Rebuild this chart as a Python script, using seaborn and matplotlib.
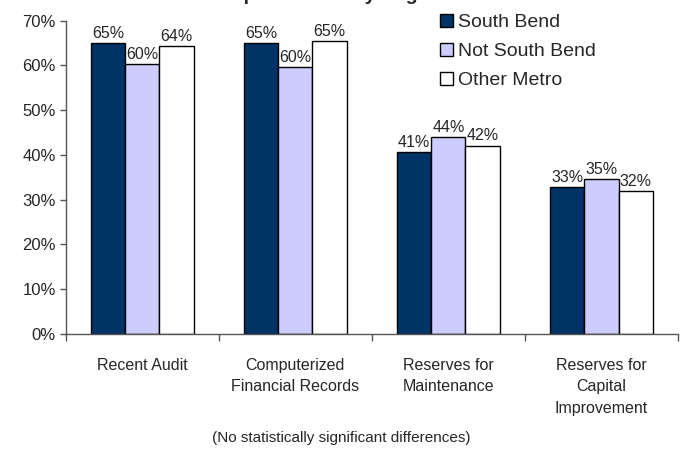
import seaborn as sns
import matplotlib.pyplot as plt
from matplotlib.ticker import FixedLocator
import pandas as pd

# data (percent)
items = ['Recent Audit', 'Computerized\nFinancial Records',
         'Reserves for\nMaintenance', 'Reserves for\nCapital\nImprovement']
regions = ['South Bend', 'Not South Bend', 'Other Metro']
south_bend = [65.0, 65.0, 40.6, 32.8]
not_south_bend = [60.4, 59.7, 44.1, 34.6]
other_metro = [64.4, 65.4, 42.1, 32.0]
y_ticks = [0, 10, 20, 30, 40, 50, 60, 70]

colors = ['#003366', '#CCCCFF', '#FFFFFF']

rows = []
for reg, vals in zip(regions, [south_bend, not_south_bend, other_metro]):
    for it, v in zip(items, vals):
        rows.append({'item': it, 'region': reg, 'pct': v})
df = pd.DataFrame(rows)

sns.set_style('white')
plt.rcParams['font.family'] = ['Liberation Sans', 'DejaVu Sans']

fig = plt.figure(figsize=(6.83, 4.51), dpi=100)
ax = fig.add_axes([65.7 / 683, 117 / 451, 612.3 / 683, 313.3 / 451])

sns.barplot(data=df, x='item', y='pct', hue='region', order=items,
            hue_order=regions, palette=colors, edgecolor='black',
            linewidth=1, width=0.67, gap=0, saturation=1, errorbar=None, ax=ax)

# value labels
for cont in ax.containers:
    ax.bar_label(cont, labels=[f'{v:.0f}%' for v in cont.datavalues],
                 padding=1.5, fontsize=11.5)

ax.set_ylim(0, 70)
ax.set_xlim(-0.5, len(items) - 0.5)
ax.set_yticks(y_ticks)
ax.set_yticklabels([f'{t}%' for t in y_ticks], fontsize=12)
ax.tick_params(axis='y', length=4, width=1, color='#555555', direction='out',
               left=True, pad=3)
ax.tick_params(axis='x', which='major', length=0, pad=17, labelsize=11.5)
ax.xaxis.set_minor_locator(FixedLocator([i - 0.5 for i in range(len(items) + 1)]))
ax.tick_params(axis='x', which='minor', length=5, width=1, color='#555555',
               direction='out', bottom=True)
for lab in ax.get_xticklabels():
    lab.set_linespacing(1.55)
    lab.set_verticalalignment('top')
ax.set_xlabel('')
ax.set_ylabel('')
sns.despine(ax=ax)
for s in ['left', 'bottom']:
    ax.spines[s].set_color('#555555')
    ax.spines[s].set_linewidth(1)

leg = ax.legend(loc='upper left', bbox_to_anchor=(440 / 683, 437 / 451),
                bbox_transform=fig.transFigure, frameon=False, fontsize=14,
                handlelength=0.65, handleheight=0.65, handletextpad=0.3,
                labelspacing=0.6, borderpad=0, borderaxespad=0)
for h in leg.legend_handles:
    h.set_edgecolor('black')
    h.set_linewidth(1)

# title is cut off at the top edge in the reference
fig.text(197 / 683, 1.0, 'Group Practices by Region', ha='left', va='baseline',
         fontsize=14, fontweight='bold')
fig.text(0.5, 13 / 451, '(No statistically significant differences)',
         ha='center', va='center', fontsize=11)

fig.savefig('out.png', dpi=100)
